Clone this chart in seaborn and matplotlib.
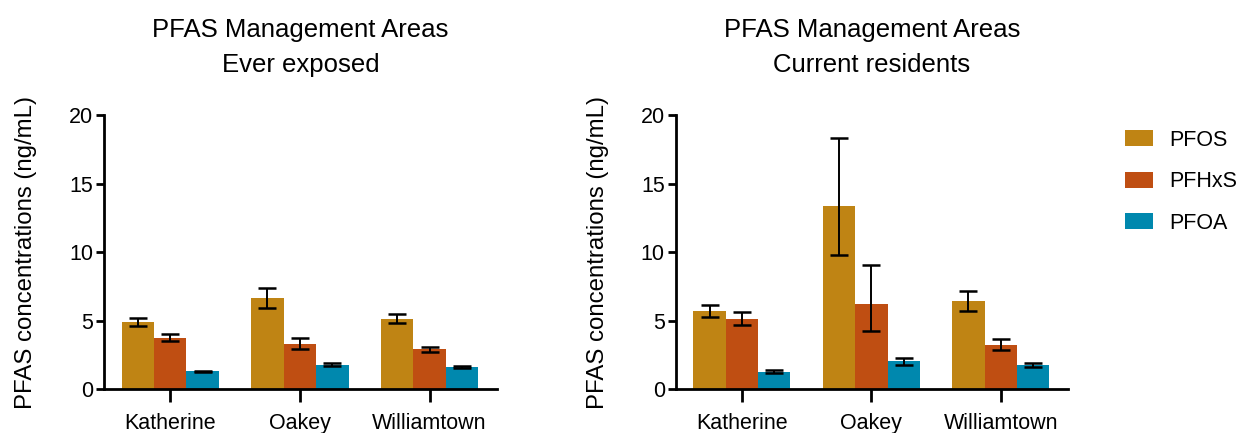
import matplotlib
matplotlib.use("Agg")
import matplotlib.pyplot as plt
import seaborn as sns
import pandas as pd
import numpy as np

sites = ["Katherine", "Oakey", "Williamtown"]
chemicals = ["PFOS", "PFHxS", "PFOA"]

# Ever exposed (mean, lower CI, upper CI), per chemical across sites
ever_PFOS = [4.9, 6.64, 5.11]
ever_PFOS_lo = [4.6, 5.94, 4.84]
ever_PFOS_hi = [5.15, 7.4, 5.45]
ever_PFHxS = [3.72, 3.26, 2.92]
ever_PFHxS_lo = [3.48, 2.9, 2.73]
ever_PFHxS_hi = [3.99, 3.75, 3.09]
ever_PFOA = [1.31, 1.73, 1.6]
ever_PFOA_lo = [1.26, 1.66, 1.55]
ever_PFOA_hi = [1.35, 1.88, 1.65]

# Current residents
cur_PFOS = [5.69, 13.38, 6.4]
cur_PFOS_lo = [5.26, 9.78, 5.72]
cur_PFOS_hi = [6.16, 18.35, 7.18]
cur_PFHxS = [5.11, 6.2, 3.19]
cur_PFHxS_lo = [4.7, 4.26, 2.84]
cur_PFHxS_hi = [5.6, 9.03, 3.62]
cur_PFOA = [1.27, 2.02, 1.73]
cur_PFOA_lo = [1.17, 1.78, 1.63]
cur_PFOA_hi = [1.36, 2.29, 1.92]

titles = ["PFAS Management Areas\nEver exposed", "PFAS Management Areas\nCurrent residents"]
ylabel = "PFAS concentrations (ng/mL)"
colors = ["#BF8414", "#BF4E12", "#0088AE"]


def make_df(pfos, pfhxs, pfoa, lo_list, hi_list):
    rows = []
    for chem, vals, lo, hi in zip(chemicals, [pfos, pfhxs, pfoa], lo_list, hi_list):
        for s, v, l, h in zip(sites, vals, lo, hi):
            rows.append({"site": s, "chemical": chem, "value": v, "lo": l, "hi": h})
    return pd.DataFrame(rows)


df_ever = make_df(ever_PFOS, ever_PFHxS, ever_PFOA,
                  [ever_PFOS_lo, ever_PFHxS_lo, ever_PFOA_lo],
                  [ever_PFOS_hi, ever_PFHxS_hi, ever_PFOA_hi])
df_cur = make_df(cur_PFOS, cur_PFHxS, cur_PFOA,
                 [cur_PFOS_lo, cur_PFHxS_lo, cur_PFOA_lo],
                 [cur_PFOS_hi, cur_PFHxS_hi, cur_PFOA_hi])

sns.set_theme(style="ticks")
plt.rcParams["font.family"] = ["Liberation Sans", "DejaVu Sans"]
plt.rcParams["text.color"] = "black"
plt.rcParams["axes.labelcolor"] = "black"

fig = plt.figure(figsize=(12.41, 4.33), dpi=100)
ax1 = fig.add_axes([0.0838, 0.1016, 0.3167, 0.6328])
ax2 = fig.add_axes([0.5447, 0.1016, 0.3159, 0.6328])

for ax, df, title in zip([ax1, ax2], [df_ever, df_cur], titles):
    sns.barplot(data=df, x="site", y="value", hue="chemical", order=sites,
                hue_order=chemicals, palette=colors, errorbar=None,
                width=0.75, saturation=1, linewidth=0, ax=ax, legend=True)
    for cont, chem in zip(ax.containers, chemicals):
        sub = df[df["chemical"] == chem].set_index("site").loc[sites]
        xs = [b.get_x() + b.get_width() / 2 for b in cont]
        ys = sub["value"].values
        yerr = np.vstack([ys - sub["lo"].values, sub["hi"].values - ys])
        ax.errorbar(xs, ys, yerr=yerr, fmt="none", ecolor="black",
                    elinewidth=1.4, capsize=6.2, capthick=1.8, zorder=5)
    ax.set_ylim(0, 20)
    ax.set_xlim(-0.51, 2.52)
    ax.set_yticks([0, 5, 10, 15, 20])
    ax.set_xlabel("")
    ax.set_ylabel(ylabel, fontsize=17.3, labelpad=23, color="black")
    ax.set_title(title, fontsize=18.5, linespacing=1.55, pad=31, color="black")
    sns.despine(ax=ax)
    for sp in ["left", "bottom"]:
        ax.spines[sp].set_linewidth(2)
        ax.spines[sp].set_color("black")
    ax.tick_params(axis="y", length=6, width=2, labelsize=15.5, pad=2,
                   colors="black")
    ax.tick_params(axis="x", length=9, width=2, labelsize=15.5, pad=8,
                   colors="black")
    handles, labels = ax.get_legend_handles_labels()
    ax.get_legend().remove()

fig.legend(handles, labels, loc="upper left", bbox_to_anchor=(0.891, 0.745),
           frameon=False, fontsize=15.5, handlelength=1.3, handleheight=0.75,
           handletextpad=0.75, labelspacing=0.95)

fig.savefig("out.png", dpi=100)
